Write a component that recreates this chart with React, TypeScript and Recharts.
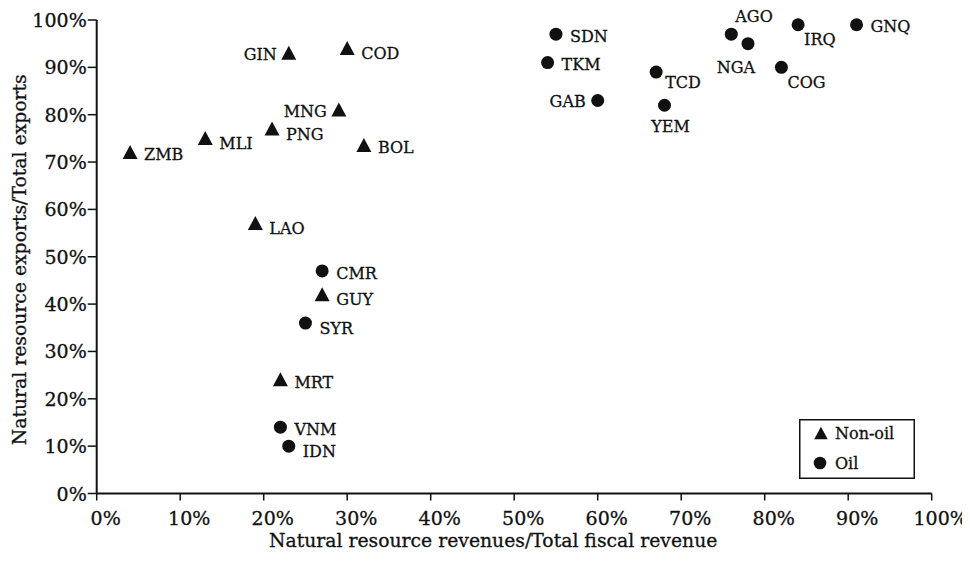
import React from 'react';
import { ScatterChart, Scatter, XAxis, YAxis, Legend } from 'recharts';

const FONT = '"DejaVu Serif", serif';
const INK = '#111';

// Non-oil countries
const nonOilNames = ['GIN', 'COD', 'MNG', 'PNG', 'MLI', 'ZMB', 'BOL', 'LAO', 'GUY', 'MRT'];
const nonOilRevenue = [23, 30, 29, 21, 13, 4, 32, 19, 27, 22];
const nonOilExports = [93, 94, 81, 77, 75, 72, 73.5, 57, 42, 24];

// Oil countries
const oilNames = ['SDN', 'TKM', 'GAB', 'TCD', 'YEM', 'AGO', 'NGA', 'IRQ', 'GNQ', 'COG', 'CMR', 'SYR', 'VNM', 'IDN'];
const oilRevenue = [55, 54, 60, 67, 68, 76, 78, 84, 91, 82, 27, 25, 22, 23];
const oilExports = [97, 91, 83, 89, 82, 97, 95, 99, 99, 90, 47, 36, 14, 10];

const tickValues = [0, 10, 20, 30, 40, 50, 60, 70, 80, 90, 100];

const xTitle = 'Natural resource revenues/Total fiscal revenue';
const yTitle = 'Natural resource exports/Total exports';

// where each country label sits relative to its marker
const labelPlacement: Record<string, string> = {
  GIN: 'left', COD: 'rightLow', MNG: 'left', PNG: 'rightLow', MLI: 'rightLow', ZMB: 'right',
  BOL: 'right', LAO: 'rightLow', GUY: 'rightLow', MRT: 'right',
  SDN: 'right', TKM: 'right', GAB: 'left', TCD: 'rightBelow', YEM: 'below', AGO: 'aboveRight',
  NGA: 'belowLeft', IRQ: 'belowRight', GNQ: 'right', COG: 'belowRight', CMR: 'right',
  SYR: 'rightLow', VNM: 'right', IDN: 'rightLow',
};

const PLACE: Record<string, { dx: number; dy: number; anchor: 'start' | 'middle' | 'end' }> = {
  right: { dx: 14, dy: 2, anchor: 'start' },
  rightLow: { dx: 14, dy: 5, anchor: 'start' },
  left: { dx: -12, dy: 1, anchor: 'end' },
  rightBelow: { dx: 9, dy: 10, anchor: 'start' },
  belowRight: { dx: 6, dy: 15, anchor: 'start' },
  below: { dx: 6, dy: 21, anchor: 'middle' },
  belowLeft: { dx: -12, dy: 24, anchor: 'middle' },
  aboveRight: { dx: 4, dy: -18, anchor: 'start' },
};

const nonOilData = nonOilNames.map((name, i) => ({ name, x: nonOilRevenue[i], y: nonOilExports[i] }));
const oilData = oilNames.map((name, i) => ({ name, x: oilRevenue[i], y: oilExports[i] }));

const textStyle = { fontFamily: FONT, fill: INK, stroke: INK, strokeWidth: 0.3 };

const triPoints = (cx: number, cy: number) =>
  `${cx},${cy - 7.5} ${cx + 7.5},${cy + 6.5} ${cx - 7.5},${cy + 6.5}`;

const makeShape = (kind: 'tri' | 'dot') => (props: any) => {
  const { cx, cy, payload } = props;
  if (cx == null || cy == null) return <g />;
  const p = PLACE[labelPlacement[payload.name] || 'right'];
  return (
    <g>
      {kind === 'tri' ? (
        <polygon points={triPoints(cx, cy)} fill={INK} />
      ) : (
        <circle cx={cx} cy={cy} r={6.5} fill={INK} />
      )}
      <text x={cx + p.dx} y={cy + p.dy} dy="0.36em" textAnchor={p.anchor} fontSize={16} style={textStyle}>
        {payload.name}
      </text>
    </g>
  );
};

const XTick = (props: any) => {
  const { x, y, payload } = props;
  return (
    <text x={x + 9} y={y + 20} textAnchor="middle" fontSize={19} style={textStyle}>
      {payload.value}%
    </text>
  );
};

const YTick = (props: any) => {
  const { x, y, payload } = props;
  return (
    <text x={x} y={y + 7} textAnchor="end" fontSize={19} style={textStyle}>
      {payload.value}%
    </text>
  );
};

const XTitle = (props: any) => {
  const { viewBox } = props;
  return (
    <text
      x={viewBox.x + viewBox.width / 2 - 21}
      y={viewBox.y + 53.5}
      textAnchor="middle"
      fontSize={18.8}
      style={textStyle}
    >
      {xTitle}
    </text>
  );
};

const YTitle = (props: any) => {
  const { viewBox } = props;
  const cy = viewBox.y + viewBox.height / 2 + 3;
  return (
    <text
      transform={`translate(18, ${cy}) rotate(-90)`}
      textAnchor="middle"
      fontSize={18.8}
      style={textStyle}
    >
      {yTitle}
    </text>
  );
};

const LegendBox = () => (
  <svg width={116} height={60} style={{ display: 'block' }}>
    <rect x={0.75} y={0.75} width={114.5} height={58.5} fill="#fff" stroke={INK} strokeWidth={1.5} />
    <polygon points={triPoints(22, 14.5)} fill={INK} transform="scale(0.9) translate(2.4 1.6)" />
    <text x={36} y={20} fontSize={16} style={textStyle}>Non-oil</text>
    <circle cx={21} cy={44} r={6.3} fill={INK} />
    <text x={36} y={50} fontSize={16} style={textStyle}>Oil</text>
  </svg>
);

export default function App() {
  return (
    <ScatterChart
      width={962}
      height={548}
      margin={{ top: 12, right: 38.3, left: 0, bottom: 0 }}
      style={{ background: '#fff' }}
    >
      <XAxis
        type="number"
        dataKey="x"
        domain={[0, 100]}
        ticks={tickValues}
        interval={0}
        height={62.5}
        axisLine={{ stroke: INK, strokeWidth: 2 }}
        tickLine={{ stroke: INK, strokeWidth: 1.5 }}
        tickSize={7}
        tickMargin={4}
        tick={<XTick />}
        label={<XTitle />}
      />
      <YAxis
        type="number"
        dataKey="y"
        domain={[0, 100]}
        ticks={tickValues}
        interval={0}
        width={88.7}
        axisLine={{ stroke: INK, strokeWidth: 2 }}
        tickLine={{ stroke: INK, strokeWidth: 1.5 }}
        tickSize={9}
        tickMargin={1}
        tick={<YTick />}
        label={<YTitle />}
      />
      <Legend
        layout="vertical"
        align="center"
        verticalAlign="middle"
        content={() => <LegendBox />}
        wrapperStyle={{ position: 'absolute', left: 791, top: 411, width: 116, height: 60 }}
      />
      <Scatter name="Non-oil" data={nonOilData} shape={makeShape('tri')} isAnimationActive={false} />
      <Scatter name="Oil" data={oilData} shape={makeShape('dot')} isAnimationActive={false} />
    </ScatterChart>
  );
}
